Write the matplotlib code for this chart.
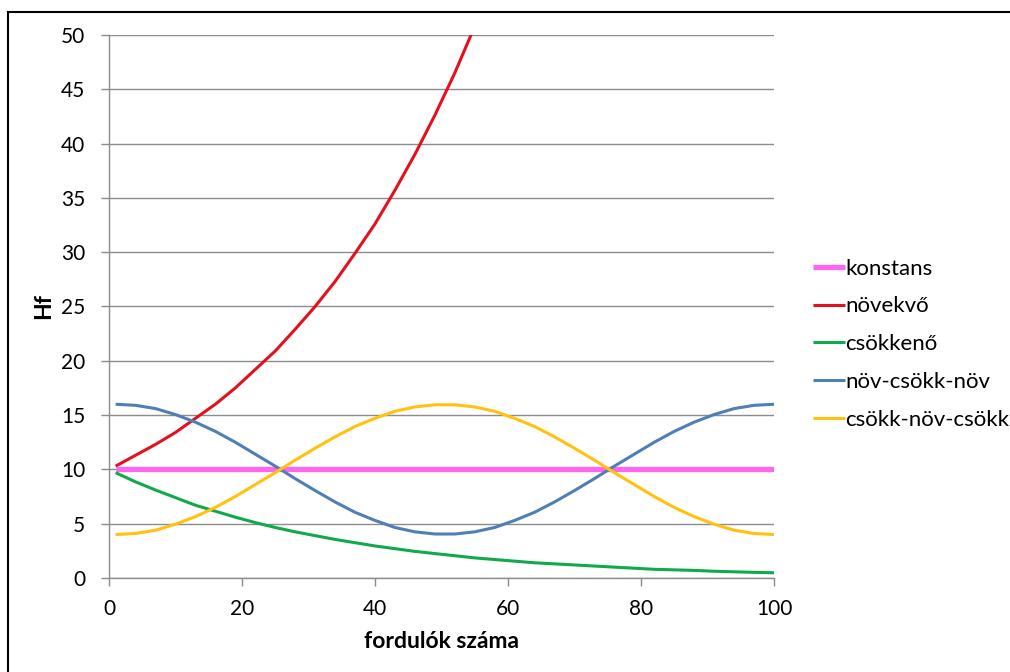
import numpy as np
import matplotlib.pyplot as plt
from matplotlib.patches import Rectangle

plt.rcParams['font.family'] = ['Lato', 'DejaVu Sans']

# fordulók (rounds) and the Hf values of each strategy
rounds = [1, 4, 7, 10, 13, 16, 19, 22, 25, 28, 31, 34, 37, 40, 43, 46, 49,
          52, 55, 58, 61, 64, 67, 70, 73, 76, 79, 82, 85, 88, 91, 94, 97, 100]

konstans = [10] * len(rounds)
# the growing series leaves the chart above 50, so it is only listed up to there
rounds_novekvo = [1, 4, 7, 10, 13, 16, 19, 22, 25, 28, 31, 34, 37, 40, 43, 46, 49, 52, 55, 58]
novekvo = [10.3, 11.3, 12.3, 13.4, 14.7, 16.0, 17.5, 19.2, 20.9, 22.9, 25.0, 27.3,
           29.9, 32.6, 35.7, 39.0, 42.6, 46.5, 50.8, 55.5]
csokkeno = [9.7, 8.85, 8.1, 7.4, 6.7, 6.15, 5.6, 5.1, 4.65, 4.25, 3.9, 3.55, 3.25,
            2.95, 2.7, 2.45, 2.25, 2.05, 1.85, 1.7, 1.55, 1.4, 1.3, 1.2, 1.1, 1.0,
            0.9, 0.8, 0.75, 0.7, 0.62, 0.57, 0.52, 0.48]
nov_csokk_nov = [16.0, 15.9, 15.6, 15.05, 14.35, 13.5, 12.5, 11.4, 10.3, 9.15, 8.05,
                 7.0, 6.05, 5.3, 4.65, 4.25, 4.05, 4.05, 4.25, 4.65, 5.3, 6.05, 7.0,
                 8.05, 9.15, 10.3, 11.4, 12.5, 13.5, 14.35, 15.05, 15.6, 15.9, 16.0]
csokk_nov_csokk = [4.0, 4.1, 4.4, 4.95, 5.65, 6.5, 7.5, 8.6, 9.7, 10.85, 11.95, 13.0,
                   13.95, 14.7, 15.35, 15.75, 15.95, 15.95, 15.75, 15.35, 14.7, 13.95,
                   13.0, 11.95, 10.85, 9.7, 8.6, 7.5, 6.5, 5.65, 4.95, 4.4, 4.1, 4.0]

labels = ['konstans', 'növekvő', 'csökkenő', 'növ-csökk-növ', 'csökk-növ-csökk']
xs = [rounds, rounds_novekvo, rounds, rounds, rounds]
series = [konstans, novekvo, csokkeno, nov_csokk_nov, csokk_nov_csokk]
colors = ['#FF66F0', '#E3101E', '#12A84C', '#4F7FB5', '#FFC20E']
widths = [3.8, 2.2, 2.2, 2.2, 2.2]

fig = plt.figure(figsize=(10.1, 6.72), dpi=100)
ax = fig.add_axes([0.1079, 0.1399, 0.6584, 0.808])

for x, y, lab, c, w in zip(xs, series, labels, colors, widths):
    ax.plot(x, y, color=c, lw=w, label=lab, solid_capstyle='butt', zorder=3)

ax.set_xlim(0, 100)
ax.set_ylim(0, 50)
ax.set_xticks(np.arange(0, 101, 20))
ax.set_yticks(np.arange(0, 51, 5))

grid_c = '#8C8C8C'
ax.yaxis.grid(True, color=grid_c, lw=1.0)
ax.set_axisbelow(True)
for s in ['top', 'right']:
    ax.spines[s].set_visible(False)
for s in ['left', 'bottom']:
    ax.spines[s].set_color(grid_c)
    ax.spines[s].set_linewidth(1.0)
ax.tick_params(axis='both', colors=grid_c, length=6, width=1.0, labelsize=15,
               labelcolor='black')
ax.tick_params(axis='y', pad=11)
ax.tick_params(axis='x', pad=9)

ax.set_ylabel('Hf', fontsize=16.5, fontweight='bold', labelpad=5)
ax.set_xlabel('fordulók száma', fontsize=16.5, fontweight='bold', labelpad=9)

leg = ax.legend(loc='center left', bbox_to_anchor=(0.785, 0.488),
                bbox_transform=fig.transFigure, frameon=False, fontsize=16,
                handlelength=1.45, handletextpad=0.0, labelspacing=0.8)

# outer chart border
fig.patches.append(Rectangle((8 / 1010, -0.1), 1.2, 1 - 12 / 672 + 0.1,
                             transform=fig.transFigure, fill=False,
                             edgecolor='black', lw=1.5))

fig.savefig('out.png', dpi=100)
